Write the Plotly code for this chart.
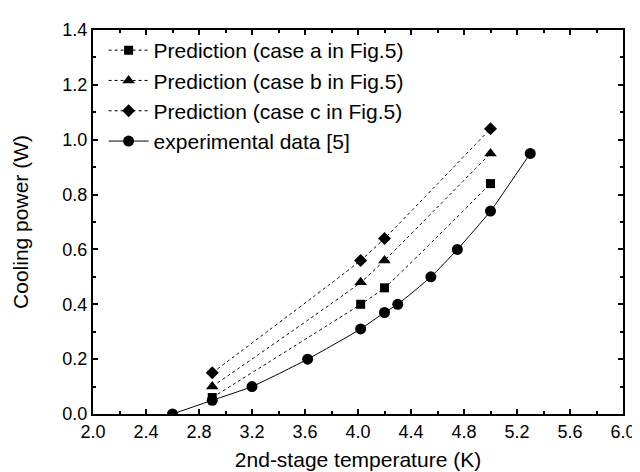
import plotly.graph_objects as go

case_a_x = [2.9, 4.02, 4.2, 5.0]
case_a_y = [0.06, 0.40, 0.46, 0.84]
case_b_x = [2.9, 4.02, 4.2, 5.0]
case_b_y = [0.10, 0.48, 0.56, 0.95]
case_c_x = [2.9, 4.02, 4.2, 5.0]
case_c_y = [0.15, 0.56, 0.64, 1.04]
exp_x = [2.6, 2.9, 3.2, 3.62, 4.02, 4.2, 4.3, 4.55, 4.75, 5.0, 5.3]
exp_y = [0.0, 0.05, 0.10, 0.20, 0.31, 0.37, 0.40, 0.50, 0.60, 0.74, 0.95]

names = ["Prediction (case a in Fig.5)", "Prediction (case b in Fig.5)",
         "Prediction (case c in Fig.5)", "experimental data [5]"]
x_ticks = [2.0, 2.4, 2.8, 3.2, 3.6, 4.0, 4.4, 4.8, 5.2, 5.6, 6.0]
y_ticks = [0.0, 0.2, 0.4, 0.6, 0.8, 1.0, 1.2, 1.4]

FONT = "Liberation Sans, Arial, sans-serif"
fig = go.Figure()

pred = [(case_a_x, case_a_y, "square", 9), (case_b_x, case_b_y, "triangle-up", 11),
        (case_c_x, case_c_y, "diamond", 10)]
for (xs, ys, sym, sz), nm in zip(pred, names[:3]):
    fig.add_trace(go.Scatter(
        x=xs, y=ys, name=nm, mode="lines+markers",
        line=dict(color="black", width=1, dash="3px,3px", shape="spline", smoothing=0.5),
        marker=dict(symbol=sym, size=sz, color="black"),
    ))

fig.add_trace(go.Scatter(
    x=exp_x, y=exp_y, name=names[3], mode="lines+markers",
    line=dict(color="black", width=1, shape="spline", smoothing=0.5),
    marker=dict(symbol="circle", size=11, color="black"),
))

axis_common = dict(
    showline=True, linecolor="black", linewidth=2, mirror="ticks",
    ticks="inside", ticklen=5, tickwidth=1.5, tickcolor="black",
    showgrid=False, zeroline=False,
    tickfont=dict(family=FONT, size=18, color="black"),
)

fig.update_xaxes(
    range=[2.0, 6.0], tickvals=x_ticks, ticktext=[f"{v:.1f}" for v in x_ticks],
    minor=dict(ticks="inside", ticklen=3, tickwidth=1.5, tickcolor="black", dtick=0.2, tick0=2.0),
    title=dict(text="2nd-stage temperature (K)", standoff=12,
               font=dict(family=FONT, size=21, color="black")),
    **axis_common,
)
fig.update_yaxes(
    range=[0.0, 1.4], tickvals=y_ticks, ticktext=[f"{v:.1f}" for v in y_ticks],
    minor=dict(ticks="inside", ticklen=3, tickwidth=1.5, tickcolor="black", dtick=0.1, tick0=0.0),
    title=dict(text="Cooling power (W)", standoff=28,
               font=dict(family=FONT, size=21, color="black")),
    **axis_common,
)

fig.update_layout(
    width=640, height=472,
    margin=dict(l=85, r=17, t=16, b=59),
    plot_bgcolor="white", paper_bgcolor="white",
    font=dict(family=FONT, color="black"),
    showlegend=True,
    legend=dict(x=0.02, y=1.0, xanchor="left", yanchor="top",
                bgcolor="rgba(0,0,0,0)", font=dict(family=FONT, size=21, color="black"),
                tracegroupgap=0, itemwidth=40),
)

fig.write_html("out.html")
